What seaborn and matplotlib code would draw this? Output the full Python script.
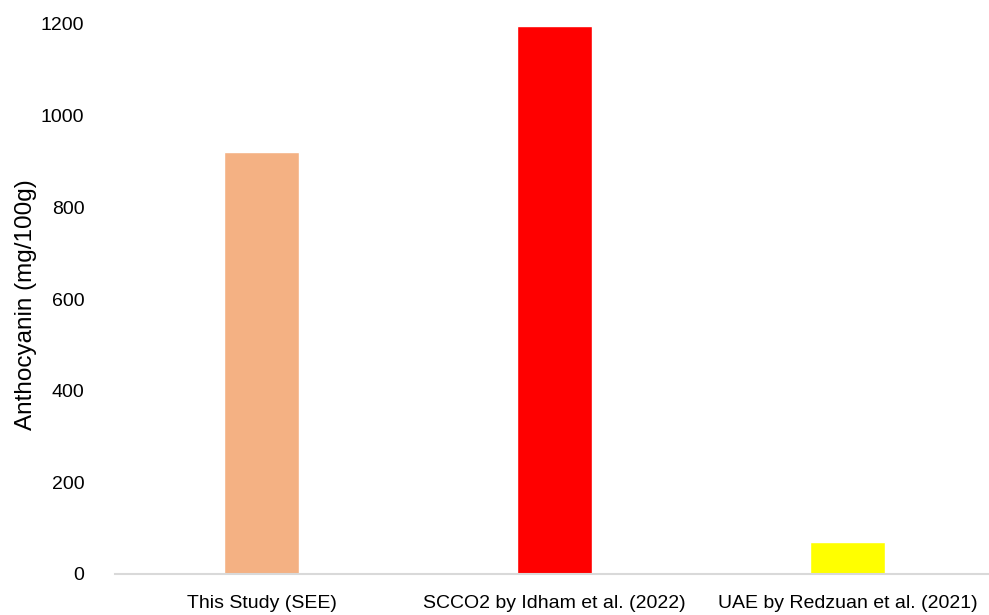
import matplotlib
matplotlib.use("Agg")
import matplotlib.pyplot as plt
import seaborn as sns
import pandas as pd

# Anthocyanin yield reported by each extraction method
methods = ["This Study (SEE)", "SCCO2 by Idham et al. (2022)", "UAE by Redzuan et al. (2021)"]
anthocyanin = [921, 1196, 70]
bar_colors = ["#F4B183", "#FF0000", "#FFFF00"]
y_ticks = [0, 200, 400, 600, 800, 1000, 1200]

df = pd.DataFrame({"method": methods, "value": anthocyanin})

sns.set_theme(style="white")
plt.rcParams["font.family"] = ["Liberation Sans", "DejaVu Sans"]

fig = plt.figure(figsize=(9.89, 6.15), dpi=100)
ax = fig.add_axes([0.1163, 41 / 615, 879 / 989, 550 / 615])

sns.barplot(data=df, x="method", y="value", hue="method", palette=bar_colors,
            width=0.253, legend=False, ax=ax, saturation=1)

ax.set_xlim(-0.5, 2.5)
ax.set_ylim(0, 1200)
ax.set_yticks(y_ticks)
ax.set_yticklabels([str(t) for t in y_ticks])
ax.set_xlabel("")
ax.set_ylabel("")

# y-axis title placed in figure coordinates
fig.text(26 / 989, 1 - 305 / 615, "Anthocyanin (mg/100g)", rotation=90,
         ha="center", va="center", fontsize=17.5, color="#000000")

for side in ["top", "right", "left"]:
    ax.spines[side].set_visible(False)
ax.spines["bottom"].set_color("#D9D9D9")
ax.spines["bottom"].set_linewidth(1.5)

ax.tick_params(axis="y", length=0, pad=22, labelsize=14, labelcolor="#000000")
ax.tick_params(axis="x", length=0, pad=15, labelsize=14, labelcolor="#000000")
ax.grid(False)

fig.savefig("out.png", dpi=100)
